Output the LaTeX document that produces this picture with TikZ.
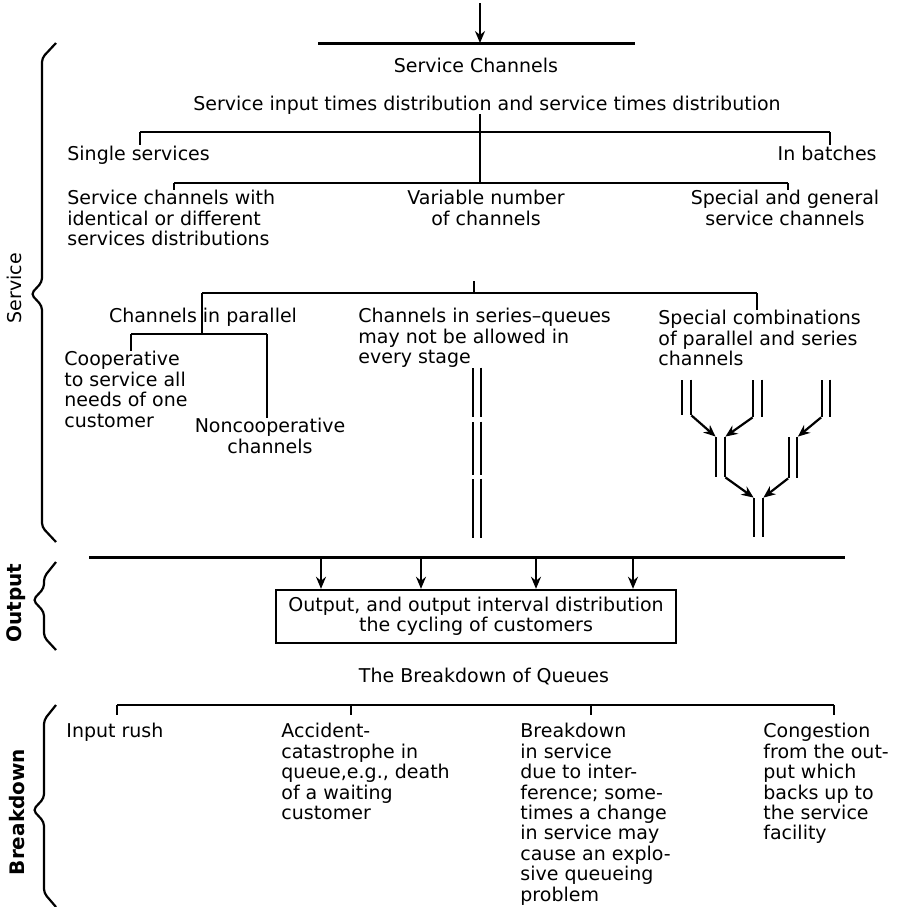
\documentclass[tikz,border=0pt]{standalone}
\usepackage{fontspec}
\setmainfont{DejaVu Sans}
\usepackage{tikz}
\usetikzlibrary{arrows.meta,calc}

\begin{document}
\begin{tikzpicture}[
    x=0.5pt, y=-0.5pt,
    font=\fontsize{9.5}{10.2}\selectfont,
    every node/.style={inner sep=0pt},
    txt/.style={align=left, anchor=north west},
    ctxt/.style={align=center, anchor=north},
    bar/.style={line width=1.5pt},
    tick/.style={line width=1.1pt},
    chan/.style={minimum width=4.5pt},
    pair/.style={double, double distance=3.4pt, line width=1pt},
    arrow/.style={-{Stealth[length=6pt, width=5pt]}, line width=1.1pt},
    brace/.style={line width=1.1pt, rounded corners=2pt},
    side/.style={rotate=90}
]
\useasboundingbox (0,0) rectangle (902,907);

\coordinate (entry) at (480,3);
\coordinate (b0l) at (318,43);
\coordinate (b0r) at (635,43);
\draw[bar] (b0l) -- (b0r);
\draw[arrow] (entry) -- (entry |- b0l);

\node[anchor=base] (chan) at (476,72) {Service Channels};
\node[anchor=base] (inp) at (487,110) {Service input times distribution and service times distribution};

\coordinate (t1l) at (140,132);
\coordinate (t1r) at (830,132);
\coordinate (t2l) at (174,183);
\coordinate (t2r) at (788,183);
\coordinate (t2m) at (480,183);
\node[anchor=base west] (single) at (67,160) {Single services};
\node[anchor=base east] (batch) at (877,160) {In batches};
\draw[tick] (t1l) -- (t1r);
\draw[tick] (t1l) -- (t1l |- single.north);
\draw[tick] (t1r) -- (t1r |- batch.north);
\draw[tick] (t2m |- inp.south) -- (t2m);

\node[txt] (ident) at (67,190) {Service channels with\\identical or different\\services distributions};
\node[ctxt] (varnum) at (486,190) {Variable number\\of channels};
\node[ctxt] (spgen) at (785,190) {Special and general\\service channels};
\draw[tick] (t2l) -- (t2r);
\draw[tick] (t2l) -- (t2l |- ident.north);
\draw[tick] (t2r) -- (t2r |- spgen.north);

\coordinate (t3m) at (474,281);
\coordinate (t3l) at (202,293);
\coordinate (t3r) at (757,293);
\coordinate (t4l) at (131,334);
\coordinate (t4r) at (267,334);
\node[anchor=base] (par) at (203,322) {Channels in parallel};
\node[txt] (series) at (358,308) {Channels in series–queues\\may not be allowed in\\every stage};
\node[txt] (spcomb) at (658,310) {Special combinations\\of parallel and series\\channels};
\node[txt] (coop) at (64,351) {Cooperative\\to service all\\needs of one\\customer};
\node[ctxt] (noncoop) at (270,418) {Noncooperative\\channels};
\draw[tick] (t3m) -- (t3m |- t3l);
\draw[tick] (t3l) -- (t3r);
\draw[tick] (t3l) -- (t3l |- t4l);
\draw[tick] (t3r) -- (t3r |- spcomb.north);
\draw[tick] (t4l) -- (t4r);
\draw[tick] (t4l) -- (t4l |- coop.north);
\draw[tick] (t4r) -- (t4r |- noncoop.north);

\node[chan, minimum height=24.5pt] (s1) at (477,392.5) {};
\node[chan, minimum height=26.5pt] (s2) at (477,448.5) {};
\node[chan, minimum height=29.5pt] (s3) at (477,508.5) {};
\node[chan, minimum height=17.5pt] (pA) at (686.5,397.5) {};
\node[chan, minimum height=18.5pt] (pB) at (757.5,398.5) {};
\node[chan, minimum height=18.5pt] (pC) at (826,398.5) {};
\node[chan, minimum height=20pt] (pD) at (720.5,457) {};
\node[chan, minimum height=20.5pt] (pE) at (793,457.5) {};
\node[chan, minimum height=19.5pt] (pF) at (758.5,517.5) {};
\foreach \n in {s1,s2,s3,pA,pB,pC,pD,pE,pF}
    \draw[pair] (\n.north) -- (\n.south);
\draw[arrow] (pA.south east) -- (pD.north west);
\draw[arrow] (pB.south west) -- (pD.north east);
\draw[arrow] (pC.south west) -- (pE.north east);
\draw[arrow] (pD.south east) -- (pF.north west);
\draw[arrow] (pE.south west) -- (pF.north east);

\coordinate (obl) at (89,557);
\coordinate (obr) at (845,557);
\draw[bar] (obl) -- (obr);
\node[draw, line width=1.2pt, minimum width=200pt, minimum height=26.5pt, align=center] (outbox) at (476,616.5) {Output, and output interval distribution\\the cycling of customers};
\foreach \x [count=\i] in {321,421,536,633}
    \coordinate (o\i) at (\x,557);
\foreach \i in {1,...,4}
    \draw[arrow] (o\i) -- (o\i |- outbox.north);

\node[anchor=base] (bdq) at (484,682) {The Breakdown of Queues};
\coordinate (bl) at (117,705);
\coordinate (br) at (834,705);
\draw[tick] (bl) -- (br);
\node[txt] (rush) at (66,723) {Input rush};
\node[txt] (accid) at (281,723) {Accident-\\catastrophe in\\queue,e.g., death\\of a waiting\\customer};
\node[txt] (bserv) at (520,723) {Breakdown\\in service\\due to inter-\\ference; some-\\times a change\\in service may\\cause an explo-\\sive queueing\\problem};
\node[txt] (cong) at (763,723) {Congestion\\from the out-\\put which\\backs up to\\the service\\facility};
\foreach \x [count=\i] in {117,351,591,834}
    \coordinate (k\i) at (\x,705);
\draw[tick, shorten >=4pt] (k1) -- (k1 |- rush.north);
\draw[tick, shorten >=4pt] (k2) -- (k2 |- accid.north);
\draw[tick, shorten >=4pt] (k3) -- (k3 |- bserv.north);
\draw[tick, shorten >=4pt] (k4) -- (k4 |- cong.north);

\node[side] (lsvc) at (14,288) {Service};
\node[side, font=\bfseries] (lout) at (16,603) {Output};
\node[side, font=\bfseries] (lbrk) at (17,812) {Breakdown};
\draw[brace] (56,43) -- (42,58) -- (42,282) -- (31,294) -- (42,306) -- (42,527) -- (56,542);
\draw[brace] (56,562) -- (44,577) -- (44,588) -- (33,600) -- (44,612) -- (44,637) -- (56,650);
\draw[brace] (56,705) -- (44,720) -- (44,798) -- (33,810) -- (44,822) -- (44,893) -- (56,907);
\end{tikzpicture}
\end{document}
